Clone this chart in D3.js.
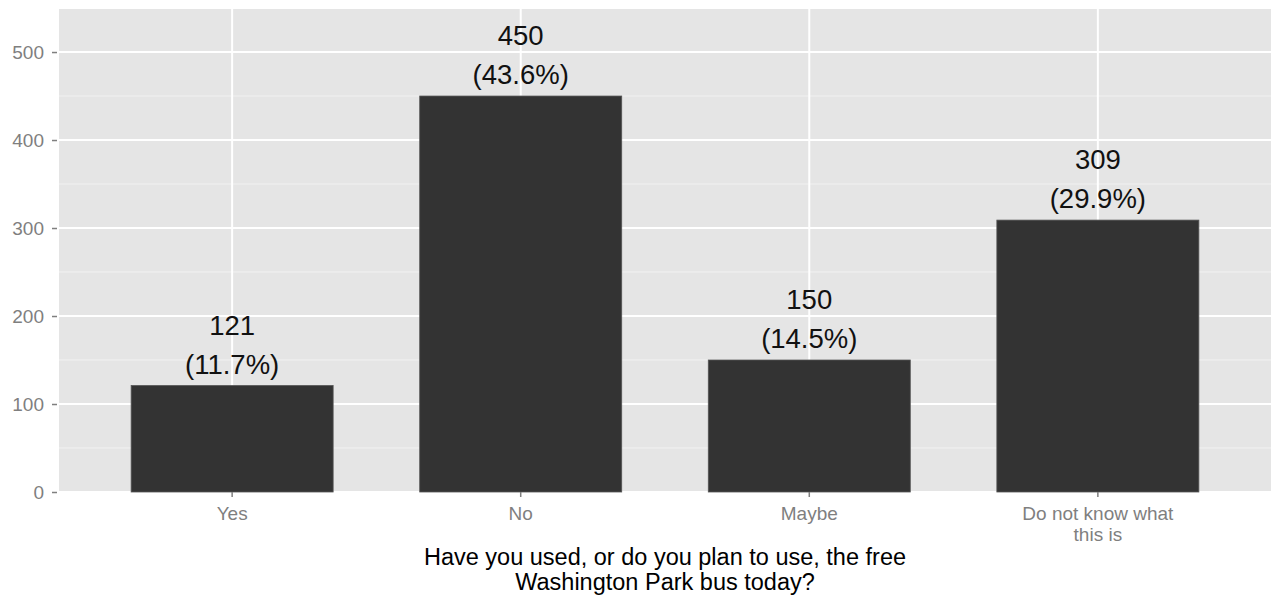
<!DOCTYPE html>
<html><head><meta charset="utf-8">
<script src="https://cdn.jsdelivr.net/npm/d3@7"></script>
<style>body{margin:0;background:#fff;} svg{display:block;font-family:"Liberation Sans",Arial,sans-serif;}</style>
</head><body>
<svg id="c" width="1272" height="599"></svg>
<script>
const categories = ["Yes", "No", "Maybe", "Do not know what\nthis is"];
const counts = [121, 450, 150, 309];
const percents = ["11.7%", "43.6%", "14.5%", "29.9%"];
const yTicks = [0, 100, 200, 300, 400, 500];
const yMinor = [50, 150, 250, 350, 450];
const xTitle = ["Have you used, or do you plan to use, the free", "Washington Park bus today?"];

const svg = d3.select("#c");
const L = 59, R = 1271, T = 9, B = 492;
const y = d3.scaleLinear().domain([0, 548.9]).range([B, T]);
const x = d3.scaleBand().domain(categories).range([L, R]).paddingInner(0.3).paddingOuter(0.25);
const g = svg.append("g");
g.append("rect").attr("x", L).attr("y", T).attr("width", R - L).attr("height", B - T).attr("fill", "#e5e5e5");
g.selectAll(".mn").data(yMinor).join("line").attr("x1", L).attr("x2", R)
  .attr("y1", d => y(d)).attr("y2", d => y(d)).attr("stroke", "#f2f2f2").attr("stroke-width", 1);
g.selectAll(".mj").data(yTicks).join("line").attr("x1", L).attr("x2", R)
  .attr("y1", d => y(d)).attr("y2", d => y(d)).attr("stroke", "#ffffff").attr("stroke-width", 2);
g.selectAll(".vx").data(categories).join("line")
  .attr("x1", d => x(d) + x.bandwidth() / 2).attr("x2", d => x(d) + x.bandwidth() / 2)
  .attr("y1", T).attr("y2", B).attr("stroke", "#ffffff").attr("stroke-width", 2);

g.selectAll(".bar").data(categories).join("rect")
  .attr("x", d => x(d)).attr("width", x.bandwidth())
  .attr("y", (d, i) => y(counts[i])).attr("height", (d, i) => B - y(counts[i]))
  .attr("fill", "#333333").attr("stroke", "#555555").attr("stroke-width", 0.8);

const lab = g.selectAll(".lab").data(categories).join("text")
  .attr("text-anchor", "middle").attr("font-size", 27.5).attr("fill", "#111");
lab.append("tspan").attr("x", d => x(d) + x.bandwidth() / 2).attr("y", (d, i) => y(counts[i]) - 51).text((d, i) => counts[i]);
lab.append("tspan").attr("x", d => x(d) + x.bandwidth() / 2).attr("y", (d, i) => y(counts[i]) - 12).text((d, i) => "(" + percents[i] + ")");

// y axis
const ya = svg.append("g").attr("transform", `translate(${L},0)`)
  .call(d3.axisLeft(y).tickValues(yTicks).tickSize(5).tickPadding(5));
ya.select(".domain").remove();
ya.selectAll(".tick line").attr("stroke", "#7f7f7f").attr("stroke-width", 1.5).attr("transform", "translate(-2,0)");
ya.selectAll(".tick text").attr("font-size", 19).attr("fill", "#7f7f7f").attr("font-family", "Liberation Sans, Arial, sans-serif").attr("x", -15);

// x axis
const xa = svg.append("g").attr("transform", `translate(0,${B})`)
  .call(d3.axisBottom(x).tickSize(5).tickFormat(""));
xa.select(".domain").remove();
xa.selectAll(".tick line").attr("stroke", "#7f7f7f").attr("stroke-width", 1.5);
xa.selectAll(".tick").each(function(d) {
  const t = d3.select(this).append("text").attr("text-anchor", "middle").attr("font-size", 19)
    .attr("fill", "#7f7f7f").attr("font-family", "Liberation Sans, Arial, sans-serif");
  d.split("\n").forEach((s, k) => t.append("tspan").attr("x", 0).attr("y", 28 + k * 20.5).text(s));
});

const tt = svg.append("text").attr("text-anchor", "middle").attr("font-size", 23.5).attr("fill", "#000");
xTitle.forEach((s, k) => tt.append("tspan").attr("x", (L + R) / 2).attr("y", 564.5 + k * 25).text(s));
</script>
</body></html>
